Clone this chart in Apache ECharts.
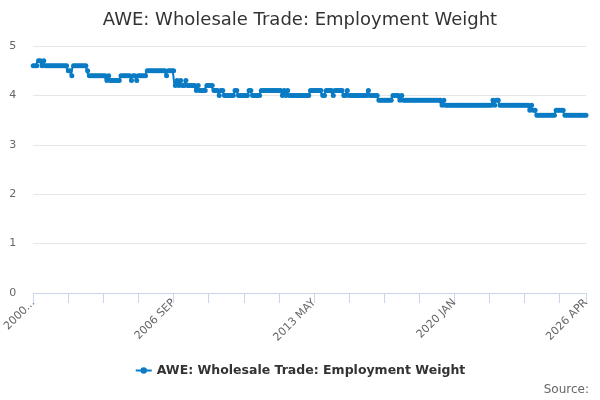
<!DOCTYPE html>
<html>
<head>
<meta charset="utf-8">
<script src="https://cdn.jsdelivr.net/npm/echarts@6/dist/echarts.min.js"></script>
<style>html,body{margin:0;padding:0;background:#fff}#c{width:600px;height:400px}</style>
</head>
<body>
<div id="c"></div>
<script>
var seriesName = 'AWE: Wholesale Trade: Employment Weight';
var monthNames = ['JAN','FEB','MAR','APR','MAY','JUN','JUL','AUG','SEP','OCT','NOV','DEC'];
var startYear = 2000;
var endYear = 2026;
var endMonthCount = 4; // JAN..APR of final year
var yTicks = [0, 1, 2, 3, 4, 5];

// Monthly values, one row per year (2000 ... 2026)
var values = [
  4.6,4.6,4.6,4.7,4.7,4.6,4.7,4.6,4.6,4.6,4.6,4.6,
  4.6,4.6,4.6,4.6,4.6,4.6,4.6,4.6,4.5,4.5,4.4,4.6,
  4.6,4.6,4.6,4.6,4.6,4.6,4.6,4.5,4.4,4.4,4.4,4.4,
  4.4,4.4,4.4,4.4,4.4,4.4,4.3,4.4,4.3,4.3,4.3,4.3,
  4.3,4.3,4.4,4.4,4.4,4.4,4.4,4.4,4.3,4.4,4.4,4.3,
  4.4,4.4,4.4,4.4,4.4,4.5,4.5,4.5,4.5,4.5,4.5,4.5,
  4.5,4.5,4.5,4.5,4.4,4.5,4.5,4.5,4.5,4.2,4.3,4.2,
  4.3,4.2,4.2,4.3,4.2,4.2,4.2,4.2,4.2,4.1,4.2,4.1,
  4.1,4.1,4.1,4.2,4.2,4.2,4.2,4.1,4.1,4.1,4.0,4.1,
  4.1,4.0,4.0,4.0,4.0,4.0,4.0,4.1,4.1,4.0,4.0,4.0,
  4.0,4.0,4.0,4.1,4.1,4.0,4.0,4.0,4.0,4.0,4.1,4.1,
  4.1,4.1,4.1,4.1,4.1,4.1,4.1,4.1,4.1,4.1,4.0,4.1,
  4.0,4.1,4.0,4.0,4.0,4.0,4.0,4.0,4.0,4.0,4.0,4.0,
  4.0,4.0,4.1,4.1,4.1,4.1,4.1,4.1,4.1,4.0,4.0,4.1,
  4.1,4.1,4.1,4.0,4.1,4.1,4.1,4.1,4.1,4.0,4.0,4.1,
  4.0,4.0,4.0,4.0,4.0,4.0,4.0,4.0,4.0,4.0,4.0,4.1,
  4.0,4.0,4.0,4.0,4.0,3.9,3.9,3.9,3.9,3.9,3.9,3.9,
  3.9,4.0,4.0,4.0,4.0,3.9,4.0,3.9,3.9,3.9,3.9,3.9,
  3.9,3.9,3.9,3.9,3.9,3.9,3.9,3.9,3.9,3.9,3.9,3.9,
  3.9,3.9,3.9,3.9,3.9,3.8,3.9,3.8,3.8,3.8,3.8,3.8,
  3.8,3.8,3.8,3.8,3.8,3.8,3.8,3.8,3.8,3.8,3.8,3.8,
  3.8,3.8,3.8,3.8,3.8,3.8,3.8,3.8,3.8,3.8,3.9,3.8,
  3.9,3.9,3.8,3.8,3.8,3.8,3.8,3.8,3.8,3.8,3.8,3.8,
  3.8,3.8,3.8,3.8,3.8,3.8,3.8,3.7,3.8,3.7,3.7,3.6,
  3.6,3.6,3.6,3.6,3.6,3.6,3.6,3.6,3.6,3.6,3.7,3.7,
  3.7,3.7,3.7,3.6,3.6,3.6,3.6,3.6,3.6,3.6,3.6,3.6,
  3.6,3.6,3.6,3.6
];

var categories = [];
for (var y = startYear; y <= endYear; y++) {
  var mEnd = (y === endYear) ? endMonthCount : 12;
  for (var m = 0; m < mEnd; m++) categories.push(y + ' ' + monthNames[m]);
}
var lastIdx = categories.length - 1;

var chart = echarts.init(document.getElementById('c'));
var font = 'DejaVu Sans, sans-serif';
chart.setOption({
  animation: false,
  textStyle: { fontFamily: font },
  title: {
    text: 'AWE: Wholesale Trade: Employment Weight',
    left: 'center', top: 6,
    textStyle: { fontFamily: font, fontSize: 18, fontWeight: 'normal', color: '#333333' }
  },
  legend: {
    bottom: 18, left: 'center',
    itemWidth: 16, itemHeight: 8,
    textStyle: { fontFamily: font, fontSize: 12.5, fontWeight: 'bold', color: '#333333' },
    data: [seriesName]
  },
  graphic: [{
    type: 'text', right: 11, bottom: 4,
    style: { text: 'Source:', fill: '#666666', font: '12px DejaVu Sans, sans-serif' }
  }],
  grid: { left: 33, right: 14, top: 46, bottom: 107, containLabel: false },
  xAxis: {
    type: 'category',
    boundaryGap: false,
    data: categories,
    axisLine: { lineStyle: { color: '#ccd6eb' } },
    axisTick: {
      length: 10,
      lineStyle: { color: '#ccd6eb' },
      interval: function (i) { return i % 20 === 0 || i === lastIdx; }
    },
    axisLabel: {
      rotate: 45,
      color: '#666666',
      fontSize: 11,
      margin: 8,
      interval: function (i) { return i % 80 === 0 || i === lastIdx; },
      formatter: function (v, i) { return i === 0 ? v.slice(0, 4) + '...' : v; }
    },
    splitLine: { show: false }
  },
  yAxis: {
    type: 'value',
    min: yTicks[0], max: yTicks[yTicks.length - 1], interval: 1,
    axisLine: { show: false },
    axisTick: { show: false },
    axisLabel: { color: '#666666', fontSize: 11, margin: 17 },
    splitLine: { lineStyle: { color: '#e6e6e6' } }
  },
  series: [{
    name: seriesName,
    type: 'line',
    step: 'middle',
    data: values,
    showSymbol: true,
    showAllSymbol: true,
    symbol: 'circle',
    symbolSize: 5,
    lineStyle: { width: 2, color: '#0a7bc4' },
    itemStyle: { color: '#0a7bc4' }
  }]
});
</script>
</body>
</html>
